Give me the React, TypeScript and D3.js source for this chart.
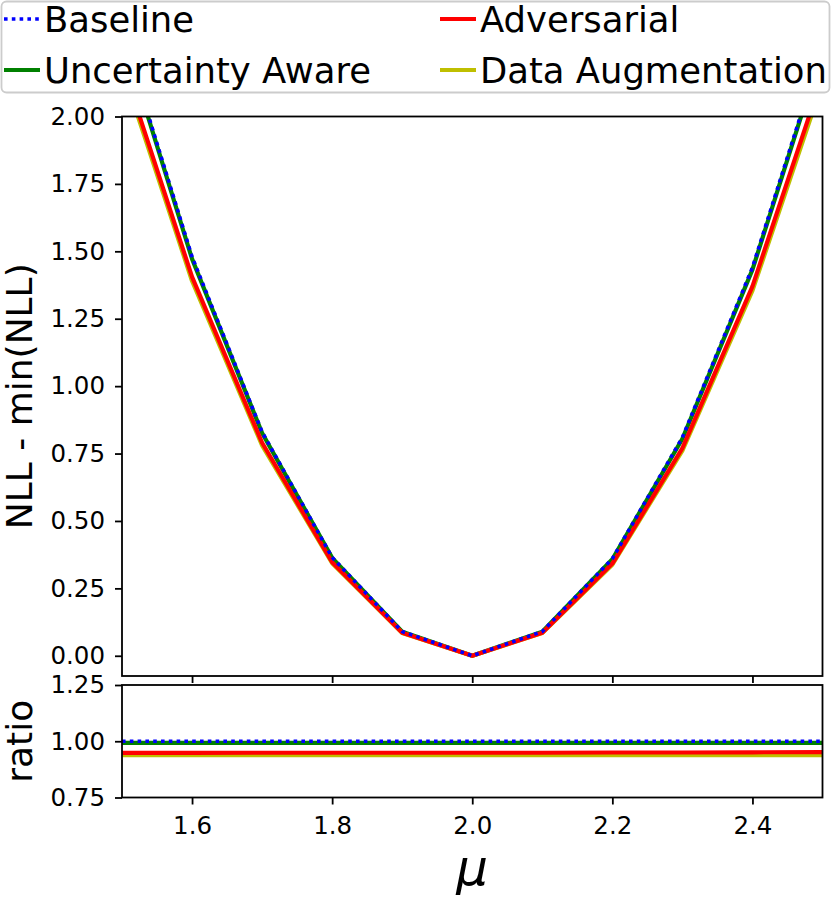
import { FC, useEffect, useRef } from 'react';
import * as d3 from 'd3';

const mu = [1.5, 1.6, 1.7, 1.8, 1.9, 2.0, 2.1, 2.2, 2.3, 2.4, 2.5];

const baseline = [2.32, 1.48, 0.83, 0.365, 0.09, 0, 0.09, 0.36, 0.81, 1.44, 2.26];
const uncertaintyAware = [2.31, 1.472, 0.826, 0.363, 0.0895, 0, 0.0895, 0.358, 0.805, 1.432, 2.25];
const adversarial = [2.2, 1.405, 0.79, 0.347, 0.0855, 0, 0.0855, 0.342, 0.77, 1.37, 2.15];
const dataAugmentation = [2.18, 1.39, 0.78, 0.343, 0.0845, 0, 0.0845, 0.338, 0.761, 1.354, 2.125];

const ratioBaseline = [1, 1, 1, 1, 1, 1, 1, 1, 1, 1, 1];
const ratioUncertainty = [0.993, 0.993, 0.993, 0.993, 0.993, 0.993, 0.993, 0.993, 0.993, 0.993, 0.993];
const ratioAdversarial = [0.948, 0.948, 0.949, 0.949, 0.949, 0.949, 0.949, 0.95, 0.95, 0.951, 0.952];
const ratioDataAug = [0.938, 0.938, 0.938, 0.938, 0.938, 0.938, 0.938, 0.938, 0.938, 0.938, 0.938];

const mainTicks = [0, 0.25, 0.5, 0.75, 1.0, 1.25, 1.5, 1.75, 2.0];
const ratioTicks = [0.75, 1.0, 1.25];
const xTicks = [1.6, 1.8, 2.0, 2.2, 2.4];

const FONT = '"DejaVu Sans", sans-serif';

interface Series {
  name: string;
  color: string;
  dotted: boolean;
  values: number[];
  ratio: number[];
}

// drawing order: blue dotted ends on top
const series: Series[] = [
  { name: 'Uncertainty Aware', color: '#008000', dotted: false, values: uncertaintyAware, ratio: ratioUncertainty },
  { name: 'Data Augmentation', color: '#bfbf00', dotted: false, values: dataAugmentation, ratio: ratioDataAug },
  { name: 'Adversarial', color: '#ff0000', dotted: false, values: adversarial, ratio: ratioAdversarial },
  { name: 'Baseline', color: '#0000ff', dotted: true, values: baseline, ratio: ratioBaseline },
];

const legendOrder = ['Baseline', 'Adversarial', 'Uncertainty Aware', 'Data Augmentation'];

const App: FC = () => {
  const ref = useRef<SVGSVGElement | null>(null);

  useEffect(() => {
    document.body.style.margin = '0';
    const svg = d3.select(ref.current);
    svg.selectAll('*').remove();

    const left = 122;
    const right = 822.5;
    const mainTop = 116.5;
    const mainBottom = 676;
    const ratioTop = 685;
    const ratioBottom = 797.5;

    const x = d3.scaleLinear().domain([1.5, 2.5]).range([left, right]);
    const y = d3.scaleLinear().domain([-0.075, 2.0]).range([mainBottom, mainTop]);
    const yr = d3.scaleLinear().domain([0.75, 1.25]).range([ratioBottom, ratioTop]);

    const defs = svg.append('defs');
    defs.append('clipPath').attr('id', 'clip-main')
      .append('rect').attr('x', left).attr('y', mainTop)
      .attr('width', right - left).attr('height', mainBottom - mainTop);
    defs.append('clipPath').attr('id', 'clip-ratio')
      .append('rect').attr('x', left).attr('y', ratioTop)
      .attr('width', right - left).attr('height', ratioBottom - ratioTop);

    const mainLine = d3.line<number>().x((_, i) => x(mu[i])).y(d => y(d));
    const ratioLine = d3.line<number>().x((_, i) => x(mu[i])).y(d => yr(d));

    const drawSeries = (g: d3.Selection<SVGGElement, unknown, null, undefined>, s: Series, path: string | null) => {
      g.append('path')
        .attr('d', path)
        .attr('fill', 'none')
        .attr('stroke', s.color)
        .attr('stroke-width', s.dotted ? 3.6 : 4.2)
        .attr('stroke-dasharray', s.dotted ? '3.6 4.2' : null)
        .attr('stroke-linejoin', 'round');
    };

    const gMain = svg.append('g').attr('clip-path', 'url(#clip-main)');
    series.forEach(s => drawSeries(gMain, s, mainLine(s.values)));
    const gRatio = svg.append('g').attr('clip-path', 'url(#clip-ratio)');
    series.forEach(s => drawSeries(gRatio, s, ratioLine(s.ratio)));

    const styleAxis = (g: d3.Selection<SVGGElement, unknown, null, undefined>) => {
      g.select('.domain').remove();
      g.selectAll('.tick line').attr('stroke', 'black').attr('stroke-width', 1.8);
      g.selectAll('.tick text').attr('fill', 'black').attr('font-size', 24.5).attr('font-family', FONT);
    };

    svg.append('g')
      .attr('transform', `translate(${left},0)`)
      .call(d3.axisLeft(y).tickValues(mainTicks).tickFormat(d3.format('.2f')).tickSize(7).tickPadding(10).tickSizeOuter(0))
      .call(styleAxis);
    svg.append('g')
      .attr('transform', `translate(${left},0)`)
      .call(d3.axisLeft(yr).tickValues(ratioTicks).tickFormat(d3.format('.2f')).tickSize(7).tickPadding(10).tickSizeOuter(0))
      .call(styleAxis);
    svg.append('g')
      .attr('transform', `translate(0,${mainBottom})`)
      .call(d3.axisBottom(x).tickValues(xTicks).tickFormat(() => '').tickSize(7).tickSizeOuter(0))
      .call(styleAxis);
    svg.append('g')
      .attr('transform', `translate(0,${ratioBottom})`)
      .call(d3.axisBottom(x).tickValues(xTicks).tickFormat(d3.format('.1f')).tickSize(7).tickPadding(12).tickSizeOuter(0))
      .call(styleAxis);

    // spines
    [[mainTop, mainBottom], [ratioTop, ratioBottom]].forEach(([t, b]) => {
      svg.append('rect')
        .attr('x', left).attr('y', t)
        .attr('width', right - left).attr('height', b - t)
        .attr('fill', 'none').attr('stroke', 'black').attr('stroke-width', 1.8);
    });

    // axis labels
    svg.append('text')
      .attr('transform', `translate(32,${(mainTop + mainBottom) / 2}) rotate(-90)`)
      .attr('text-anchor', 'middle')
      .attr('font-family', FONT).attr('font-size', 36)
      .text('NLL - min(NLL)');
    svg.append('text')
      .attr('transform', `translate(32,${(ratioTop + ratioBottom) / 2}) rotate(-90)`)
      .attr('text-anchor', 'middle')
      .attr('font-family', FONT).attr('font-size', 36)
      .text('ratio');
    svg.append('text')
      .attr('x', (left + right) / 2).attr('y', 885)
      .attr('text-anchor', 'middle')
      .attr('font-family', FONT).attr('font-size', 50).attr('font-style', 'italic')
      .text('μ');

    // legend
    const legend = svg.append('g');
    legend.append('rect')
      .attr('x', 1.5).attr('y', 1.5).attr('width', 828).attr('height', 91)
      .attr('rx', 5).attr('fill', 'white').attr('fill-opacity', 0.8)
      .attr('stroke', '#cccccc').attr('stroke-width', 1.8);
    legendOrder.forEach((name, i) => {
      const s = series.find(d => d.name === name)!;
      const col = i % 2;
      const row = Math.floor(i / 2);
      const hx = col === 0 ? 4 : 440;
      const cy = row === 0 ? 19 : 70;
      legend.append('line')
        .attr('x1', hx).attr('x2', hx + 36).attr('y1', cy).attr('y2', cy)
        .attr('stroke', s.color)
        .attr('stroke-width', s.dotted ? 3.6 : 4.2)
        .attr('stroke-dasharray', s.dotted ? '3.6 4.2' : null);
      legend.append('text')
        .attr('x', hx + 40).attr('y', cy + 13)
        .attr('font-family', FONT).attr('font-size', 35.4)
        .text(name);
    });
  }, []);

  return <svg ref={ref} width={831} height={898} style={{ display: 'block' }} />;
};

export default App;
